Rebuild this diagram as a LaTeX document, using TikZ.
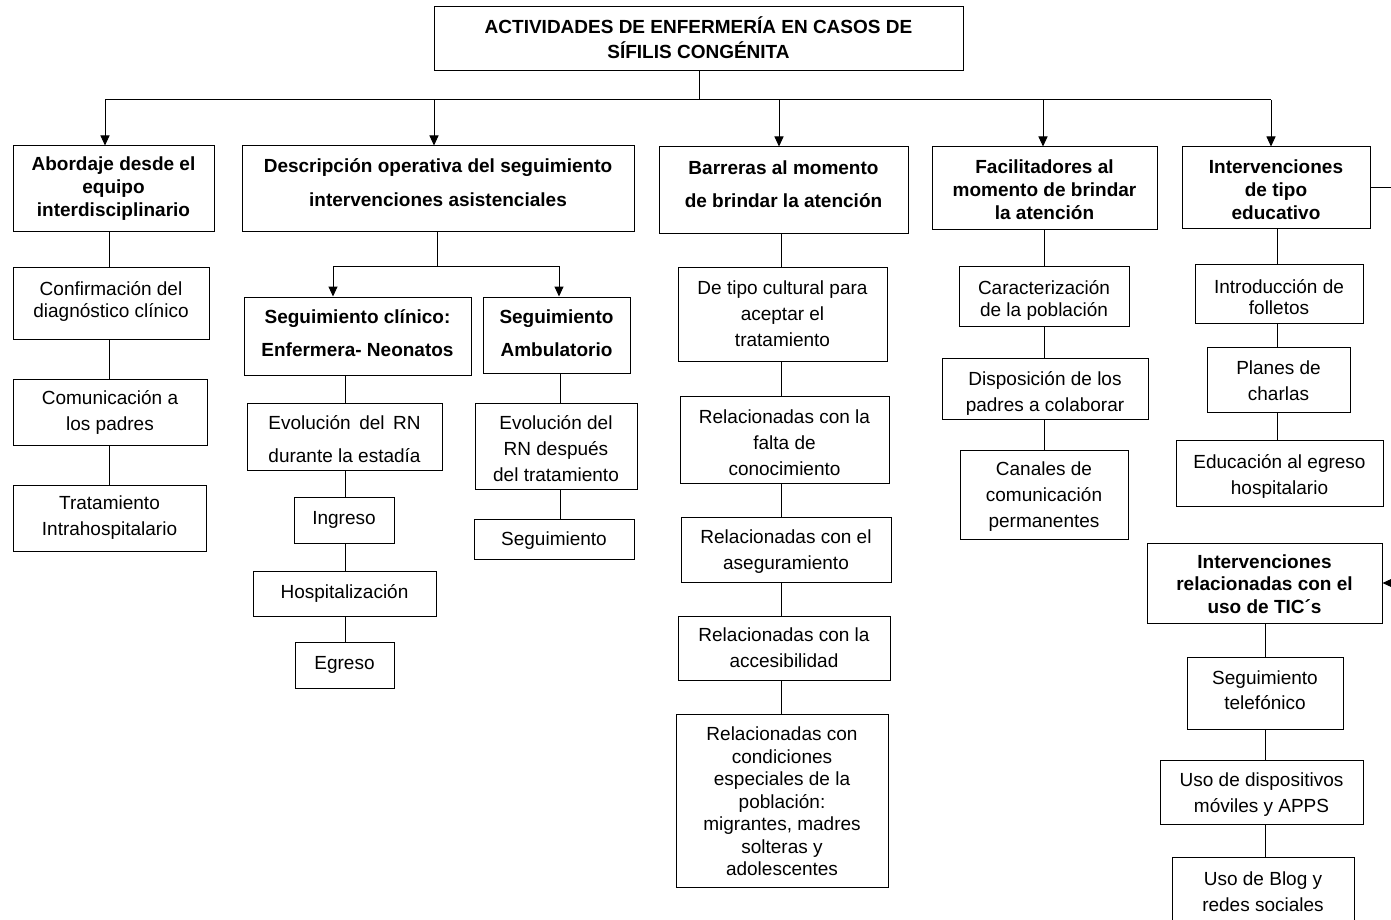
\documentclass[tikz,border=0pt]{standalone}
\usepackage{fontspec}
\setmainfont{Liberation Sans}
\usetikzlibrary{arrows.meta}
\tikzset{
  box/.style={draw, line width=1pt, inner sep=0pt},
  lbl/.style={align=center, inner sep=0pt, text=black},
  conn/.style={draw, line width=1pt},
  arr/.style={conn, -{Triangle[length=10pt,width=9pt]}}
}
% name, x1, y1, x2, y2, line spacing, font switch, text, vertical text offset (up)
\newcommand{\mybox}[9]{%
  \node[box, minimum width={(#4-#2)*1pt}, minimum height={(#5-#3)*1pt}] (#1) at ({(#2+#4)/2},{(#3+#5)/2}) {};
  \node[lbl, font={\fontsize{19}{#6}\selectfont#7}] (#1t) at ([yshift=#9pt]#1.center) {#8};}
\begin{document}
\begin{tikzpicture}[x=1pt,y=-1pt]
\useasboundingbox (0,0) rectangle (1391,920);
% title
\mybox{title}{434}{7}{963}{71}{25}{\bfseries}{ACTIVIDADES DE ENFERMERÍA EN CASOS DE\\SÍFILIS CONGÉNITA}{1}
% level 1
\mybox{abor}{13}{146}{214}{231}{23}{\bfseries}{Abordaje desde el\\equipo\\interdisciplinario}{0}
\mybox{desc}{242}{146}{634}{231}{34}{\bfseries}{Descripción operativa del seguimiento\\intervenciones asistenciales}{5.5}
\mybox{barr}{659}{147}{908}{233}{33}{\bfseries}{Barreras al momento\\de brindar la atención}{5.5}
\mybox{faci}{932}{147}{1157}{229}{23}{\bfseries}{Facilitadores al\\momento de brindar\\la atención}{-2}
\mybox{edu}{1182}{147}{1370}{228}{23}{\bfseries}{Intervenciones\\de tipo\\educativo}{-2}
% column 1
\mybox{conf}{13}{267}{209}{339}{22}{}{Confirmación del\\diagnóstico clínico}{2}
\mybox{comu}{13}{379}{207}{445}{26}{}{Comunicación a\\los padres}{0}
\mybox{trat}{13}{485}{206}{551}{26}{}{Tratamiento\\Intrahospitalario}{0}
% column 2
\mybox{clin}{244}{297}{471}{375}{33}{\bfseries}{Seguimiento clínico:\\Enfermera- Neonatos}{2.5}
\mybox{ambu}{483}{297}{630}{373}{33}{\bfseries}{Seguimiento\\Ambulatorio}{2}
\mybox{evo1}{247}{403}{442}{470}{33}{}{\setbox0\hbox{durante la estadía}\makebox[\wd0][s]{Evolución del RN}\\durante la estadía}{-3}
\mybox{ingr}{294}{497}{394}{543}{26}{}{Ingreso}{0}
\mybox{hosp}{253}{571}{436}{616}{26}{}{Hospitalización}{0}
\mybox{egre}{295}{642}{394}{688}{26}{}{Egreso}{0}
\mybox{evo2}{475}{403}{637}{489}{26}{}{Evolución del\\RN después\\del tratamiento}{-2.5}
\mybox{segu}{474}{519}{634}{559}{26}{}{Seguimiento}{-2}
% column 3
\mybox{cult}{678}{267}{887}{361}{26}{}{De tipo cultural para\\aceptar el\\tratamiento}{0}
\mybox{falt}{680}{396}{889}{483}{26}{}{Relacionadas con la\\falta de\\conocimiento}{-3}
\mybox{aseg}{681}{517}{891}{582}{26}{}{Relacionadas con el\\aseguramiento}{-2}
\mybox{acce}{678}{616}{890}{680}{26}{}{Relacionadas con la\\accesibilidad}{0}
\mybox{cond}{676}{714}{888}{887}{22.5}{}{Relacionadas con\\condiciones\\especiales de la\\población:\\migrantes, madres\\solteras y\\adolescentes}{-1}
% column 4
\mybox{cara}{959}{266}{1129}{326}{22}{}{Caracterización\\de la población}{-4}
\mybox{disp}{942}{358}{1148}{419}{26}{}{Disposición de los\\padres a colaborar}{-5}
\mybox{cana}{960}{450}{1128}{539}{26}{}{Canales de\\comunicación\\permanentes}{-2}
% column 5
\mybox{foll}{1195}{264}{1363}{323}{21}{}{Introducción de\\folletos}{-3.5}
\mybox{char}{1207}{347}{1350}{412}{26}{}{Planes de\\charlas}{-1.5}
\mybox{egrh}{1176}{440}{1383}{506}{26}{}{Educación al egreso\\hospitalario}{-3.5}
\mybox{tic}{1147}{543}{1382}{623}{22.5}{\bfseries}{Intervenciones\\relacionadas con el\\uso de TIC´s}{-1}
\mybox{tele}{1187}{657}{1343}{729}{25}{}{Seguimiento\\telefónico}{2.5}
\mybox{movi}{1160}{760}{1363}{824}{26}{}{Uso de dispositivos\\móviles y APPS}{-3}
\mybox{blog}{1172}{857}{1354}{923}{26}{}{Uso de Blog y\\redes sociales}{-1.5}
% main bus
\coordinate (bus) at (699,100);
\coordinate (b1) at (105,100);
\coordinate (b2) at (434,100);
\coordinate (b3) at (779,100);
\coordinate (b4) at (1043,100);
\coordinate (b5) at (1271,100);
\draw[conn] (title.south -| bus) -- (bus);
\draw[conn] (b1) -- (b5);
\draw[arr] (b1) -- (b1 |- abor.north);
\draw[arr] (b2) -- (b2 |- desc.north);
\draw[arr] (b3) -- (b3 |- barr.north);
\draw[arr] (b4) -- (b4 |- faci.north);
\draw[arr] (b5) -- (b5 |- edu.north);
% column 1
\coordinate (c1) at (109,0);
\draw[conn] (c1 |- abor.south) -- (c1 |- conf.north);
\draw[conn] (c1 |- conf.south) -- (c1 |- comu.north);
\draw[conn] (c1 |- comu.south) -- (c1 |- trat.north);
% column 2
\coordinate (sb) at (437,266);
\coordinate (sb1) at (333,266);
\coordinate (sb2) at (559,266);
\draw[conn] (sb |- desc.south) -- (sb);
\draw[conn] (sb1) -- (sb2);
\draw[arr] (sb1) -- (sb1 |- clin.north);
\draw[arr] (sb2) -- (sb2 |- ambu.north);
\coordinate (c2) at (345,0);
\draw[conn] (c2 |- clin.south) -- (c2 |- evo1.north);
\draw[conn] (c2 |- evo1.south) -- (c2 |- ingr.north);
\draw[conn] (c2 |- ingr.south) -- (c2 |- hosp.north);
\draw[conn] (c2 |- hosp.south) -- (c2 |- egre.north);
\coordinate (c2b) at (560,0);
\draw[conn] (c2b |- ambu.south) -- (c2b |- evo2.north);
\draw[conn] (c2b |- evo2.south) -- (c2b |- segu.north);
% column 3
\coordinate (c3) at (781,0);
\draw[conn] (c3 |- barr.south) -- (c3 |- cult.north);
\draw[conn] (c3 |- cult.south) -- (c3 |- falt.north);
\draw[conn] (c3 |- falt.south) -- (c3 |- aseg.north);
\draw[conn] (c3 |- aseg.south) -- (c3 |- acce.north);
\draw[conn] (c3 |- acce.south) -- (c3 |- cond.north);
% column 4
\coordinate (c4) at (1044,0);
\draw[conn] (c4 |- faci.south) -- (c4 |- cara.north);
\draw[conn] (c4 |- cara.south) -- (c4 |- disp.north);
\draw[conn] (c4 |- disp.south) -- (c4 |- cana.north);
% column 5
\coordinate (c5) at (1277,0);
\draw[conn] (c5 |- edu.south) -- (c5 |- foll.north);
\draw[conn] (c5 |- foll.south) -- (c5 |- char.north);
\draw[conn] (c5 |- char.south) -- (c5 |- egrh.north);
\coordinate (rt) at (1393,0);
\draw[arr] (edu.east) -- (edu.east -| rt) |- (tic.east);
\coordinate (c6) at (1265,0);
\draw[conn] (c6 |- tic.south) -- (c6 |- tele.north);
\draw[conn] (c6 |- tele.south) -- (c6 |- movi.north);
\draw[conn] (c6 |- movi.south) -- (c6 |- blog.north);
\end{tikzpicture}
\end{document}
